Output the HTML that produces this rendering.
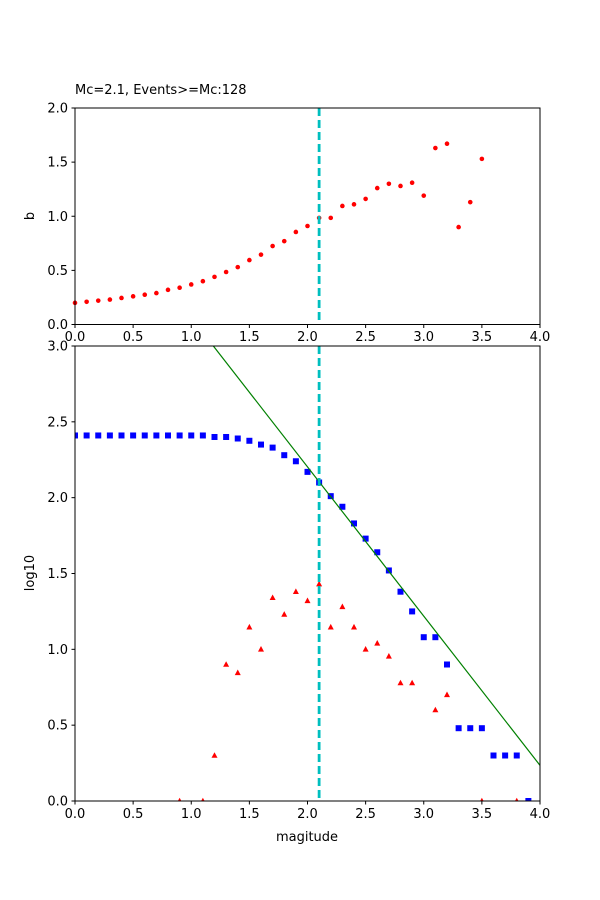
<!DOCTYPE html>
<html><head><meta charset="utf-8"><style>
html,body{margin:0;padding:0;background:#fff;}
svg{display:block;font-family:"DejaVu Sans","Liberation Sans",sans-serif;}
</style></head><body>
<svg id="s" width="600" height="900" viewBox="0 0 600 900" xmlns="http://www.w3.org/2000/svg">
<rect width="600" height="900" fill="#fff"/>
<g id="g"></g>
<text x="75" y="94" font-size="13">Mc=2.1, Events&gt;=Mc:128</text>
<text x="34" y="216" font-size="13" transform="rotate(-90 34 216)" text-anchor="middle">b</text>
<text x="34" y="573" font-size="13" transform="rotate(-90 34 573)" text-anchor="middle">log10</text>
<text x="307" y="841" font-size="13" text-anchor="middle">magitude</text>
</svg>
<script>
var g=document.getElementById('g'),NS='http://www.w3.org/2000/svg',h='';
var X=function(v){return 75+v*116.25;};
var Yt=function(v){return 324.5-v*108.25;};
var Yb=function(v){return 801-v*151.67;};
// top axes
// markers top
var bt=[0.2,0.21,0.22,0.23,0.245,0.26,0.275,0.29,0.32,0.34,0.37,0.40,0.44,0.485,0.53,0.595,0.645,0.725,0.77,0.855,0.91,0.985,0.985,1.095,1.11,1.16,1.26,1.3,1.28,1.31,1.19,1.63,1.67,0.9,1.13,1.53];
bt.forEach(function(v,i){h+='<circle cx="'+X(i*0.1)+'" cy="'+Yt(v)+'" r="2.3" fill="red"/>';});
h+='<line x1="'+X(2.1)+'" y1="108" x2="'+X(2.1)+'" y2="324.5" stroke="#00bfbf" stroke-width="2.8" stroke-dasharray="8,4"/>';
h+='<rect x="75" y="108" width="465" height="216.5" fill="none" stroke="#000" stroke-width="1"/>';
for(var i=0;i<=8;i++){var x=X(i*0.5);h+='<line x1="'+x+'" y1="324.5" x2="'+x+'" y2="328" stroke="#000"/><text x="'+x+'" y="341" font-size="13" text-anchor="middle">'+(i*0.5).toFixed(1)+'</text>';}
for(var i=0;i<=4;i++){var y=Yt(i*0.5);h+='<line x1="71.5" y1="'+y+'" x2="75" y2="'+y+'" stroke="#000"/><text x="68" y="'+(y+4.5)+'" font-size="13" text-anchor="end">'+(i*0.5).toFixed(1)+'</text>';}
// bottom
var bl=[2.41,2.41,2.41,2.41,2.41,2.41,2.41,2.41,2.41,2.41,2.41,2.41,2.40,2.40,2.39,2.375,2.35,2.33,2.28,2.24,2.17,2.10,2.01,1.94,1.83,1.73,1.64,1.52,1.38,1.25,1.08,1.08,0.90,0.48,0.48,0.48,0.30,0.30,0.30,0.0];
h+='<clipPath id="c"><rect x="75" y="346" width="465" height="455"/></clipPath><g clip-path="url(#c)">';
bl.forEach(function(v,i){h+='<rect x="'+(X(i*0.1)-3)+'" y="'+(Yb(v)-3)+'" width="6" height="6" fill="blue"/>';});
var tr=[[0.9,0],[1.1,0],[1.2,0.30],[1.3,0.90],[1.4,0.845],[1.5,1.146],[1.6,1.0],[1.7,1.34],[1.8,1.23],[1.9,1.38],[2.0,1.32],[2.1,1.43],[2.2,1.146],[2.3,1.28],[2.4,1.146],[2.5,1.0],[2.6,1.04],[2.7,0.954],[2.8,0.778],[2.9,0.778],[3.1,0.60],[3.2,0.70],[3.5,0],[3.8,0]];
tr.forEach(function(p){var x=X(p[0]),y=Yb(p[1]);h+='<polygon points="'+x+','+(y-3.3)+' '+(x-3)+','+(y+2.3)+' '+(x+3)+','+(y+2.3)+'" fill="red"/>';});
h+='<line x1="'+X(1.19)+'" y1="'+Yb(3)+'" x2="'+X(4)+'" y2="'+Yb(0.235)+'" stroke="green" stroke-width="1.2"/>';
h+='</g>';
h+='<line x1="'+X(2.1)+'" y1="346" x2="'+X(2.1)+'" y2="801" stroke="#00bfbf" stroke-width="2.8" stroke-dasharray="8,4"/>';
h+='<rect x="75" y="346" width="465" height="455" fill="none" stroke="#000" stroke-width="1"/>';
for(var i=0;i<=8;i++){var x=X(i*0.5);h+='<line x1="'+x+'" y1="801" x2="'+x+'" y2="804.5" stroke="#000"/><text x="'+x+'" y="818" font-size="13" text-anchor="middle">'+(i*0.5).toFixed(1)+'</text>';}
for(var i=0;i<=6;i++){var y=Yb(i*0.5);h+='<line x1="71.5" y1="'+y+'" x2="75" y2="'+y+'" stroke="#000"/><text x="68" y="'+(y+4.5)+'" font-size="13" text-anchor="end">'+(i*0.5).toFixed(1)+'</text>';}
g.innerHTML=h;
</script>
</body></html>
